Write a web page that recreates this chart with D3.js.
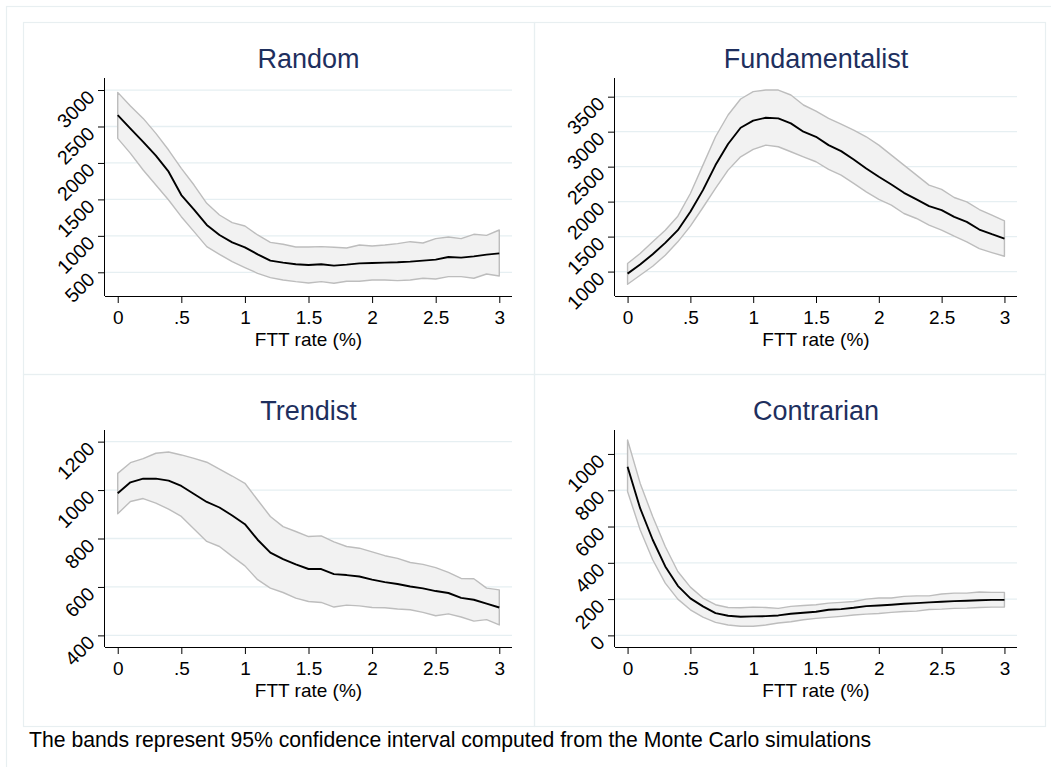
<!DOCTYPE html>
<html>
<head>
<meta charset="utf-8">
<script src="https://cdn.jsdelivr.net/npm/d3@7"></script>
<style>
body { margin:0; background:#fff; }
svg { font-family:"Liberation Sans", Arial, Helvetica, sans-serif; }
</style>
</head>
<body>
<svg id="chart" width="1051" height="767"></svg>
<script>
// FTT rate grid (%)
var fttRate = [0,0.1,0.2,0.3,0.4,0.5,0.6,0.7,0.8,0.9,1.0,1.1,1.2,1.3,1.4,1.5,1.6,1.7,1.8,1.9,2.0,2.1,2.2,2.3,2.4,2.5,2.6,2.7,2.8,2.9,3.0];
var xTicks = [0,0.5,1,1.5,2,2.5,3];
var xTickLabels = ["0",".5","1","1.5","2","2.5","3"];
var xDomain = [-0.1,3.1];

// Random
var randomMean  = [2655,2470,2290,2100,1880,1560,1360,1150,1012,911,843,747,660,633,610,600,610,591,605,623,628,633,637,646,660,674,710,701,719,742,760];
var randomUpper = [2968,2780,2611,2406,2177,1926,1697,1446,1286,1181,1135,1012,911,884,847,847,852,843,834,875,861,875,893,920,902,962,984,962,1021,1007,1080];
var randomLower = [2337,2131,1903,1697,1492,1263,1058,852,747,646,564,486,427,395,372,354,372,349,377,377,395,395,386,395,418,409,441,441,418,477,450];
var randomTicks = [500,1000,1500,2000,2500,3000];
var randomDomain = [175,3165];

// Fundamentalist
var fundMean  = [971,1100,1248,1410,1592,1854,2164,2522,2823,3056,3157,3199,3190,3118,2999,2927,2808,2722,2603,2474,2355,2245,2126,2031,1935,1878,1782,1711,1601,1534,1472];
var fundUpper = [1115,1258,1425,1592,1792,2116,2522,2927,3238,3467,3572,3595,3595,3524,3381,3295,3190,3109,3023,2927,2808,2665,2522,2379,2236,2174,2059,1997,1887,1806,1725];
var fundLower = [819,948,1076,1234,1425,1649,1916,2188,2450,2641,2746,2808,2784,2713,2641,2570,2460,2379,2260,2140,2031,1949,1830,1759,1663,1592,1506,1425,1329,1272,1219];
var fundTicks = [1000,1500,2000,2500,3000,3500];
var fundDomain = [651,3767];

// Trendist
var trendMean  = [987,1032,1047,1047,1039,1017,984,951,928,895,859,795,742,715,693,674,674,653,649,643,630,620,612,602,594,583,575,555,547,531,515];
var trendUpper = [1069,1113,1130,1152,1157,1145,1131,1115,1086,1058,1028,959,891,849,829,808,811,786,767,760,745,729,718,701,693,680,660,635,634,595,588];
var trendLower = [902,953,965,946,921,891,839,788,767,726,687,630,595,577,554,540,536,517,525,522,515,514,509,506,495,481,489,476,459,465,443];
var trendTicks = [400,600,800,1000,1200];
var trendDomain = [352,1248];

// Contrarian
var contraMean  = [930,701,527,380,273,204,160,123,108,103,105,106,110,119,125,130,141,145,152,161,165,169,174,178,182,185,189,191,194,196,196];
var contraUpper = [1077,839,655,490,352,266,206,169,154,152,156,154,149,160,165,169,178,182,187,200,206,206,215,218,218,228,233,233,239,237,237];
var contraLower = [793,582,417,288,200,141,101,72,57,50,50,57,68,75,86,94,99,105,112,117,121,127,132,134,143,145,149,150,154,156,156];
var contraTicks = [0,200,400,600,800,1000];
var contraDomain = [-64,1132];

var footnote = "The bands represent 95% confidence interval computed from the Monte Carlo simulations";

var panels = [
    {title:"Random", mean:randomMean, hi:randomUpper, lo:randomLower, ticks:randomTicks, domain:randomDomain, bx:23, by:22, left:82, right:489, top:56, bottom:274},
    {title:"Fundamentalist", mean:fundMean, hi:fundUpper, lo:fundLower, ticks:fundTicks, domain:fundDomain, bx:534, by:22, left:81, right:483, top:56, bottom:274},
    {title:"Trendist", mean:trendMean, hi:trendUpper, lo:trendLower, ticks:trendTicks, domain:trendDomain, bx:23, by:374, left:82, right:489, top:56, bottom:273},
    {title:"Contrarian", mean:contraMean, hi:contraUpper, lo:contraLower, ticks:contraTicks, domain:contraDomain, bx:534, by:374, left:81, right:483, top:56, bottom:273}
];

var svg = d3.select("#chart");
var lineCol = "#e8eff1";

//outer frame (only top and left edges are inside the picture)
svg.append("rect")
    .attr("x",6.5).attr("y",6.5)
    .attr("width",1060).attr("height",780)
    .attr("fill","none").attr("stroke",lineCol).attr("stroke-width",1.2);

function drawPanel(p){
    var g = svg.append("g").attr("transform","translate("+p.bx+","+p.by+")");

    //panel box
    g.append("rect")
	.attr("x",0.5).attr("y",0.5)
	.attr("width",511).attr("height",352)
	.attr("fill","none").attr("stroke",lineCol).attr("stroke-width",1.2);

    var x = d3.scaleLinear().domain(xDomain).range([p.left,p.right]);
    var y = d3.scaleLinear().domain(p.domain).range([p.bottom,p.top]);

    //gridlines
    g.selectAll(".grid").data(p.ticks).enter().append("line")
	.attr("x1",p.left).attr("x2",p.right)
	.attr("y1",function(d){ return y(d); })
	.attr("y2",function(d){ return y(d); })
	.attr("stroke","#e6eff2").attr("stroke-width",1.3);

    //confidence band
    var area = d3.area()
	.x(function(d,i){ return x(fttRate[i]); })
	.y0(function(d,i){ return y(p.lo[i]); })
	.y1(function(d,i){ return y(p.hi[i]); });
    g.append("path").datum(p.mean)
	.attr("d",area)
	.attr("fill","#f2f2f2")
	.attr("stroke","#bdbdbd").attr("stroke-width",1.4)
	.attr("stroke-linejoin","round");

    //mean line
    var line = d3.line()
	.x(function(d,i){ return x(fttRate[i]); })
	.y(function(d){ return y(d); });
    g.append("path").datum(p.mean)
	.attr("d",line)
	.attr("fill","none")
	.attr("stroke","#000").attr("stroke-width",1.9)
	.attr("stroke-linejoin","round");

    //x axis
    var xAxis = d3.axisBottom(x)
	.tickValues(xTicks)
	.tickSize(7)
	.tickPadding(8)
	.tickFormat(function(d,i){ return xTickLabels[i]; });
    var gx = g.append("g")
	.attr("transform","translate(0,"+p.bottom+")")
	.call(xAxis);
    gx.select(".domain").attr("d","M"+p.left+",0.5H"+p.right).attr("stroke","#000");
    gx.selectAll(".tick line").attr("stroke","#000");
    gx.selectAll("text").attr("font-size",19).attr("fill","#000").attr("font-family",null);

    //y axis
    var yAxis = d3.axisLeft(y)
	.tickValues(p.ticks)
	.tickSize(7)
	.tickFormat(d3.format("d"));
    var gy = g.append("g")
	.attr("transform","translate("+p.left+",0)")
	.call(yAxis);
    gy.select(".domain").attr("d","M-0.5,"+p.top+"V"+p.bottom).attr("stroke","#000");
    gy.selectAll(".tick line").attr("stroke","#000");
    gy.selectAll(".tick text")
	.attr("x",null).attr("dy",null)
	.attr("transform","translate(-9,8) rotate(-45)")
	.attr("text-anchor","end")
	.attr("font-size",19.5).attr("fill","#000").attr("font-family",null);
    gy.attr("text-anchor",null);

    //axis title
    g.append("text")
	.attr("x",(p.left+p.right)/2)
	.attr("y",p.bottom+49.5)
	.attr("text-anchor","middle")
	.attr("font-size",19)
	.text("FTT rate (%)");

    //panel title
    g.append("text")
	.attr("x",(p.left+p.right)/2)
	.attr("y",46)
	.attr("text-anchor","middle")
	.attr("font-size",27)
	.attr("fill","#1e2f5e")
	.text(p.title);
}

panels.forEach(drawPanel);

svg.append("text")
    .attr("x",29).attr("y",747)
    .attr("font-size",21.2)
    .text(footnote);
</script>
</body>
</html>
